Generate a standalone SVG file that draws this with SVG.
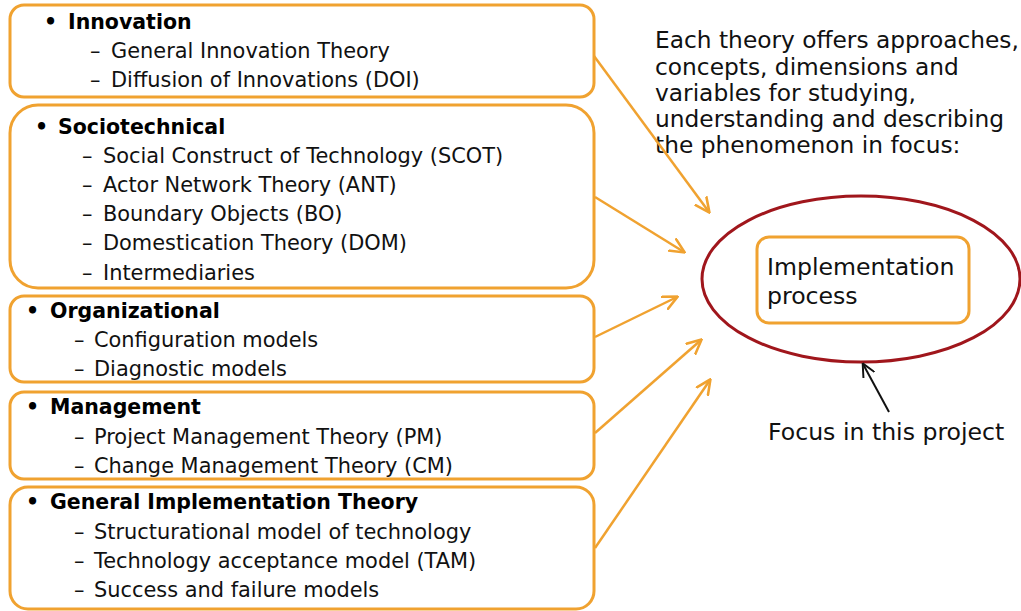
<svg xmlns="http://www.w3.org/2000/svg" width="1021" height="611" viewBox="0 0 1021 611">
<style>
.box{fill:#fff;stroke:#F0A230;stroke-width:3}
.t{font-family:"DejaVu Sans",Verdana,sans-serif;font-size:20.9px;fill:#111}
.b{font-family:"DejaVu Sans",Verdana,sans-serif;font-size:20.5px;font-weight:bold;fill:#000}
.r{font-family:"DejaVu Sans",Verdana,sans-serif;font-size:23.6px;fill:#111}
.n{font-family:"DejaVu Sans",Verdana,sans-serif;font-size:23.3px;fill:#111}
.con{stroke:#F0A230;stroke-width:2.5;fill:none}
</style>
<defs>
<marker id="ah" viewBox="0 0 10 10" refX="9" refY="5" markerWidth="16" markerHeight="16" markerUnits="userSpaceOnUse" orient="auto">
<path d="M0,0.5 L9.5,5 L0,9.5" fill="none" stroke="#F0A230" stroke-width="1.6"/>
</marker>
<marker id="ahk" viewBox="0 0 10 10" refX="9" refY="5" markerWidth="14" markerHeight="14" markerUnits="userSpaceOnUse" orient="auto">
<path d="M0,0.5 L9.5,5 L0,9.5" fill="none" stroke="#111" stroke-width="1.4"/>
</marker>
</defs>
<rect width="1021" height="611" fill="#fff"/>
<g id="innovation">
<rect class="box" x="10" y="5" width="584" height="92" rx="14"/>
<text class="b" x="44" y="29">•</text><text class="b" x="68" y="29">Innovation</text>
<text class="t" x="90" y="58">–</text><text class="t" x="111" y="58">General Innovation Theory</text>
<text class="t" x="90" y="87">–</text><text class="t" x="111" y="87">Diffusion of Innovations (DOI)</text>
</g>
<g id="sociotechnical">
<rect class="box" x="10" y="105" width="584" height="183" rx="28"/>
<text class="b" x="35" y="134">•</text><text class="b" x="58" y="134">Sociotechnical</text>
<text class="t" x="82" y="163">–</text><text class="t" x="103" y="163">Social Construct of Technology (SCOT)</text>
<text class="t" x="82" y="192">–</text><text class="t" x="103" y="192">Actor Network Theory (ANT)</text>
<text class="t" x="82" y="221">–</text><text class="t" x="103" y="221">Boundary Objects (BO)</text>
<text class="t" x="82" y="250">–</text><text class="t" x="103" y="250">Domestication Theory (DOM)</text>
<text class="t" x="82" y="280">–</text><text class="t" x="103" y="280">Intermediaries</text>
</g>
<g id="organizational">
<rect class="box" x="10" y="296" width="584" height="86" rx="14"/>
<text class="b" x="26" y="318">•</text><text class="b" x="50" y="318">Organizational</text>
<text class="t" x="74" y="347">–</text><text class="t" x="94" y="347">Configuration models</text>
<text class="t" x="74" y="376">–</text><text class="t" x="94" y="376">Diagnostic models</text>
</g>
<g id="management">
<rect class="box" x="10" y="392" width="584" height="87" rx="14"/>
<text class="b" x="26" y="414">•</text><text class="b" x="50" y="414">Management</text>
<text class="t" x="74" y="444">–</text><text class="t" x="94" y="444">Project Management Theory (PM)</text>
<text class="t" x="74" y="473">–</text><text class="t" x="94" y="473">Change Management Theory (CM)</text>
</g>
<g id="general">
<rect class="box" x="10" y="487" width="584" height="122" rx="18"/>
<text class="b" x="26" y="509">•</text><text class="b" x="50" y="509">General Implementation Theory</text>
<text class="t" x="74" y="539">–</text><text class="t" x="94" y="539">Structurational model of technology</text>
<text class="t" x="74" y="568">–</text><text class="t" x="94" y="568">Technology acceptance model (TAM)</text>
<text class="t" x="74" y="597">–</text><text class="t" x="94" y="597">Success and failure models</text>
</g>
<g id="note">
<text class="n" x="655" y="48">Each theory offers approaches,</text>
<text class="n" x="655" y="75">concepts, dimensions and</text>
<text class="n" x="655" y="101">variables for studying,</text>
<text class="n" x="655" y="127">understanding and describing</text>
<text class="n" x="655" y="153">the phenomenon in focus:</text>
</g>
<g id="focus">
<ellipse cx="861" cy="279" rx="159" ry="83" fill="none" stroke="#A0161C" stroke-width="3"/>
</g>
<g id="implementation">
<rect class="box" x="757" y="237" width="212" height="86" rx="12"/>
<text class="r" x="767" y="275">Implementation</text>
<text class="r" x="767" y="304">process</text>
</g>
<g id="focus-label">
<text class="r" x="768" y="440">Focus in this project</text>
</g>
<g id="connectors">
<line class="con" x1="594" y1="56" x2="709" y2="212" marker-end="url(#ah)"/>
<line class="con" x1="595" y1="197" x2="684" y2="252" marker-end="url(#ah)"/>
<line class="con" x1="595" y1="337" x2="677" y2="297" marker-end="url(#ah)"/>
<line class="con" x1="595" y1="433" x2="701" y2="340" marker-end="url(#ah)"/>
<line class="con" x1="595" y1="548" x2="710" y2="380" marker-end="url(#ah)"/>
<line x1="889" y1="412" x2="863" y2="364" stroke="#111" stroke-width="2" marker-end="url(#ahk)"/>
</g>
</svg>
